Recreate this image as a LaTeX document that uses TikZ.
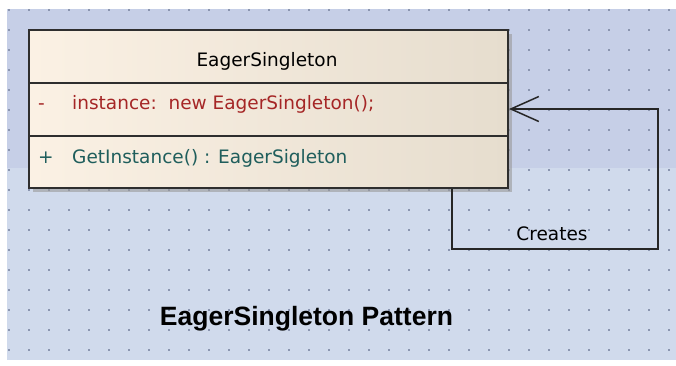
\documentclass[tikz,border=0pt]{standalone}
\usepackage{fontspec}
\setmainfont{DejaVu Sans}
\newfontfamily\captionfont{Liberation Sans}
\usetikzlibrary{arrows.meta}

\definecolor{sheettop}{HTML}{C6CFE7}
\definecolor{sheetlow}{HTML}{D0DAEC}
\definecolor{griddot}{HTML}{8A95B0}
\definecolor{classleft}{HTML}{FBF1E4}
\definecolor{classright}{HTML}{E6DDCE}
\definecolor{attrred}{HTML}{A52626}
\definecolor{opteal}{HTML}{1F5E5C}
\definecolor{umlline}{HTML}{2E2E2E}

\tikzset{
  umltext/.style={font=\fontsize{18.5}{22}\selectfont, anchor=base west, inner sep=0pt},
  classbox/.style={draw=umlline, line width=2pt, left color=classleft, right color=classright,
    minimum width=479pt, minimum height=158pt, inner sep=0pt},
  creates/.style={draw=black!85, line width=1.5pt, -{Straight Barb[length=28pt,width=25pt]}}
}

\begin{document}
\begin{tikzpicture}[x=1pt,y=-1pt]
            \useasboundingbox (0,0) rectangle (676,365);
            % sheet with dot grid
            \fill[white] (0,0) rectangle (676,365);
            \fill[sheettop] (7,9) rectangle (676,168);
            \fill[sheetlow] (7,168) rectangle (676,360);
            \foreach \i in {0,...,33}
              \foreach \j in {0,...,17}
                \fill[griddot] ({8.4+20*\i},{9.4+20*\j}) rectangle ++(1.2,1.2);

            % class with shadow
            \fill[black!40, opacity=0.6] (33,34) rectangle (512,192);
            \node[classbox] (singleton) at (268.5,109) {};
            \draw[umlline, line width=2pt] (singleton.west |- 0,83) -- (singleton.east |- 0,83);
            \draw[umlline, line width=2pt] (singleton.west |- 0,136) -- (singleton.east |- 0,136);

            \node[umltext, anchor=base] (classname) at (267,66.7) {EagerSingleton};
            \node[umltext, text=attrred] (attrvis) at (38,109) {-};
            \node[umltext, text=attrred] (attr) at (72,109) {instance:\ \ new EagerSingleton();};
            \node[umltext, text=opteal] (opvis) at (38,163) {+};
            \node[umltext, text=opteal] (op) at (72,163) {GetInstance() : EagerSigleton};

            % self association
            \coordinate (bendA) at (452,249);
            \coordinate (bendB) at (658,249);
            \coordinate (bendC) at (658,109);
            \draw[creates] (singleton.south -| bendA) -- (bendA) -- (bendB) -- (bendC) -- (singleton.east |- bendC);
            \node[umltext, anchor=base] (createslbl) at (552,240) {Creates};

            \node[anchor=base, inner sep=0pt, font=\captionfont\bfseries\fontsize{26.5}{30}\selectfont] (caption) at (306.5,325) {EagerSingleton Pattern};
        \end{tikzpicture}
\end{document}
